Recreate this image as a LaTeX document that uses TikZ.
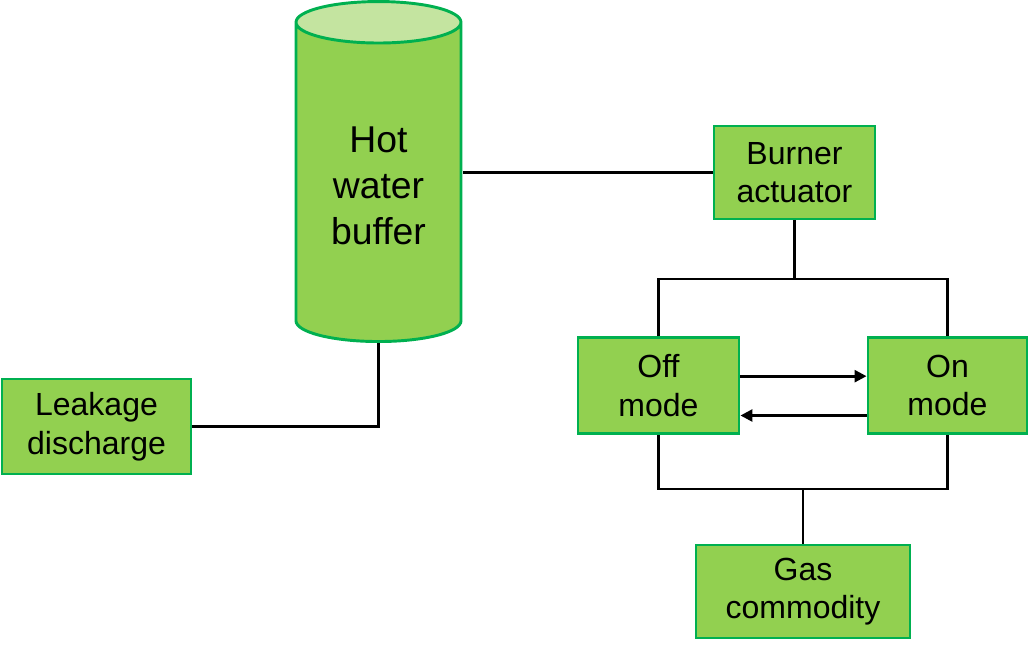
\documentclass[tikz,border=0pt]{standalone}
\usepackage{fontspec}
\setmainfont{Liberation Sans}
\usetikzlibrary{shapes.geometric, arrows.meta, positioning}

\definecolor{boxfill}{HTML}{92D050}
\definecolor{boxline}{HTML}{00B050}
\definecolor{capfill}{HTML}{C4E4A0}

\tikzset{
  block/.style={draw=boxline, fill=boxfill, line width=2.2pt, rectangle, align=center,
    font=\fontsize{24}{29}\selectfont},
  tank/.style={draw=boxline, line width=2.2pt, cylinder, shape border rotate=90, align=center,
    cylinder uses custom fill, cylinder body fill=boxfill, cylinder end fill=capfill,
    font=\fontsize{28}{34.5}\selectfont},
  link/.style={line width=2pt, black}
}

\begin{document}
\begin{tikzpicture}[x=0.75pt, y=-0.75pt, >={Triangle[length=9pt,width=9pt]}]
\useasboundingbox (0,0) rectangle (1029,653);

% Nodes
\node (buffer) [tank, minimum width=123.75pt, minimum height=255pt, aspect=0.4, anchor=bottom] at (378.5,343) {Hot\\water\\buffer};
\node (leak) [block, minimum width=141.75pt, minimum height=71.25pt] at (96.5,426.5) {Leakage\\discharge};
\node (burner) [block, minimum width=120.75pt, minimum height=69.75pt] at (794.5,172.5) {Burner\\actuator};
\node (off) [block, minimum width=120.75pt, minimum height=72pt] at (658.5,385.5) {Off\\mode};
\node (on) [block, minimum width=119.25pt, minimum height=72pt] at (947.5,385.5) {On\\mode};
\node (gas) [block, minimum width=160.5pt, minimum height=69.75pt] at (803,591.5) {Gas\\commodity};

% Bus points
\coordinate (upbus) at (burner.south |- 0,279);
\coordinate (lowbus) at (gas.north |- 0,489);

% Lines
\draw[link] (burner.west) -- (burner.west -| buffer.east);
\draw[link] (buffer.bottom) |- (leak.east);
\draw[link] (burner.south) -- (upbus);
\draw[link] (off.north) |- (upbus) -| (on.north);
\draw[link] (off.south) |- (lowbus) -| (on.south);
\draw[link] (lowbus) -- (gas.north);

% Arrows
\draw[link, ->] ([yshift=7pt]off.east) -- ([yshift=7pt]on.west);
\draw[link, ->] ([yshift=-22.5pt]on.west) -- ([yshift=-22.5pt]off.east);

\end{tikzpicture}
\end{document}
